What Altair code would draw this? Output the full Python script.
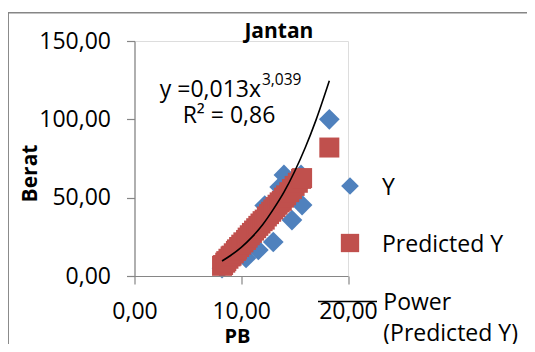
import altair as alt
import pandas as pd

# ---- data ----
pb = [8.2, 8.3, 8.5, 8.6, 8.8, 9.0, 9.1, 9.3, 9.5, 9.6, 9.8, 10.0, 10.2, 10.45, 10.6,
      10.8, 11.0, 11.2, 11.4, 11.6, 11.8, 12.0, 12.2, 12.4, 12.6, 12.8, 13.0, 13.2,
      13.4, 13.6, 13.8, 14.0, 14.2, 14.5, 14.75, 15.0, 15.3, 15.6, 15.7, 18.25]
y_obs = [5.0, 8.5, 7.0, 11.0, 9.5, 13.5, 11.5, 16.0, 14.0, 19.0, 17.0, 22.0, 19.0, 11.5, 27.0,
         23.5, 30.0, 26.0, 33.0, 16.6, 36.0, 31.0, 45.0, 35.0, 42.0, 37.0, 21.7, 47.0,
         41.0, 56.8, 45.0, 64.5, 48.0, 57.0, 35.7, 55.0, 56.0, 64.5, 45.3, 100.0]
y_pred = [6.5, 7.0, 8.5, 9.5, 11.0, 12.5, 13.0, 14.5, 16.0, 17.0, 18.5, 20.0, 21.5, 23.0, 24.5,
          26.0, 27.5, 29.0, 30.5, 32.0, 33.5, 35.0, 36.0, 38.0, 39.5, 41.0, 42.5, 44.0,
          45.5, 47.0, 48.0, 50.0, 51.5, 53.5, 55.5, 57.5, 59.5, 62.0, 62.5, 82.0]
curve_x = [8.2, 9.0, 10.0, 11.0, 12.0, 13.0, 14.0, 15.0, 16.0, 17.0, 18.25]
curve_y = [9.6, 13.1, 18.3, 24.8, 32.7, 42.5, 53.5, 66.7, 82.0, 99.5, 124.6]
x_ticks = [0, 10, 20]
y_ticks = [0, 50, 100, 150]
legend_labels = ["Y", "Predicted Y", "Power\n(Predicted Y)"]
chart_title = "Jantan"
eq_main = "y =0,013x"
eq_sup = "3,039"
eq_r2 = "R\u00b2 = 0,86"

BLUE = "#4F81BD"
RED = "#C0504D"
GRAY = "#868686"
FONT = "Open Sans"

pts = pd.DataFrame({"PB": pb, "Y": y_obs, "Pred": y_pred})
curve = pd.DataFrame({"PB": curve_x, "Berat": curve_y})
one = pd.DataFrame({"k": [0]})

fmt = "replace(format(datum.value, '.2f'), '.', ',')"
xs = alt.Scale(domain=[0, 20], nice=False, zero=False)
ys = alt.Scale(domain=[0, 150], nice=False)

x_axis = alt.Axis(values=x_ticks, title="PB", grid=False, domainColor=GRAY, tickColor=GRAY,
                  domainWidth=1.2, tickWidth=1.2,
                  tickSize=8, labelFont=FONT, labelFontSize=23, labelColor="black",
                  labelPadding=16, labelExpr=fmt, labelFlush=False, labelOverlap=False,
                  titleFont=FONT, titleFontSize=20, titleFontWeight="bold", titleColor="black",
                  titleX=102.5, titleY=60.5, titleBaseline="middle", titleAlign="center", zindex=1)
y_axis = alt.Axis(values=y_ticks, title="Berat", grid=False, domainColor=GRAY, tickColor=GRAY,
                  domainWidth=1.2, tickWidth=1.2,
                  tickSize=8, labelFont=FONT, labelFontSize=23, labelColor="black",
                  labelPadding=16, labelExpr=fmt, labelFlush=False, labelOverlap=False,
                  titleFont=FONT, titleFontSize=21, titleFontWeight="bold", titleColor="black",
                  titleAngle=270, titleX=-104, titleY=132, titleBaseline="middle",
                  titleAlign="center", zindex=1)

border = alt.Chart(one).mark_rect(fillOpacity=0, stroke=GRAY, strokeWidth=1.5).encode(
    x=alt.value(-126.3), y=alt.value(-28.3), x2=alt.value(420), y2=alt.value(330))

obs = alt.Chart(pts).mark_point(shape="diamond", filled=True, size=430, color=BLUE, opacity=1).encode(
    x=alt.X("PB:Q", scale=xs, axis=x_axis),
    y=alt.Y("Y:Q", scale=ys, axis=y_axis))
pred = alt.Chart(pts).mark_point(shape="square", filled=True, size=400, color=RED, opacity=1).encode(
    x=alt.X("PB:Q", scale=xs), y=alt.Y("Pred:Q", scale=ys))
line = alt.Chart(curve).mark_line(color="black", strokeWidth=1.6, interpolate="monotone").encode(
    x=alt.X("PB:Q", scale=xs), y=alt.Y("Berat:Q", scale=ys))


def txt(s, x, y, size=23, align="left", weight="normal"):
    return alt.Chart(one).mark_text(font=FONT, fontSize=size, color="black", align=align,
                                    baseline="alphabetic", fontWeight=weight, lineBreak="\n",
                                    lineHeight=31).encode(
        x=alt.value(x), y=alt.value(y), text=alt.value(s))


title_t = txt(chart_title, 144.4, -2.7, size=21, align="center", weight="bold")
eq1 = txt(eq_main, 126.5, 55.7, align="right")
eq2 = txt(eq_sup, 127.5, 44, size=15.5)
eq3 = txt(eq_r2, 94.5, 82.3, align="center")

leg_d = alt.Chart(one).mark_point(shape="diamond", filled=True, size=313, color=BLUE, opacity=1).encode(
    x=alt.value(215.5), y=alt.value(145))
leg_s = alt.Chart(one).mark_point(shape="square", filled=True, size=335, color=RED, opacity=1).encode(
    x=alt.value(215.5), y=alt.value(202))
leg_l = alt.Chart(one).mark_rule(color="black", strokeWidth=1.6).encode(
    x=alt.value(183.5), x2=alt.value(242.5), y=alt.value(260.5))
leg_t1 = txt(legend_labels[0], 247.5, 154)
leg_t2 = txt(legend_labels[1], 247.5, 210.7)
leg_t3 = txt(legend_labels[2], 248.8, 269)

chart = alt.layer(border, obs, pred, line, title_t, eq1, eq2, eq3,
                  leg_d, leg_s, leg_l, leg_t1, leg_t2, leg_t3).properties(
    width=213.5, height=235,
    padding={"left": 126.5, "top": 33, "right": 179, "bottom": 68},
    autosize=alt.AutoSizeParams(type="none"),
).configure_view(stroke=None).configure(font=FONT)

chart.save("out.html", embed_options={"renderer": "svg", "actions": False})
